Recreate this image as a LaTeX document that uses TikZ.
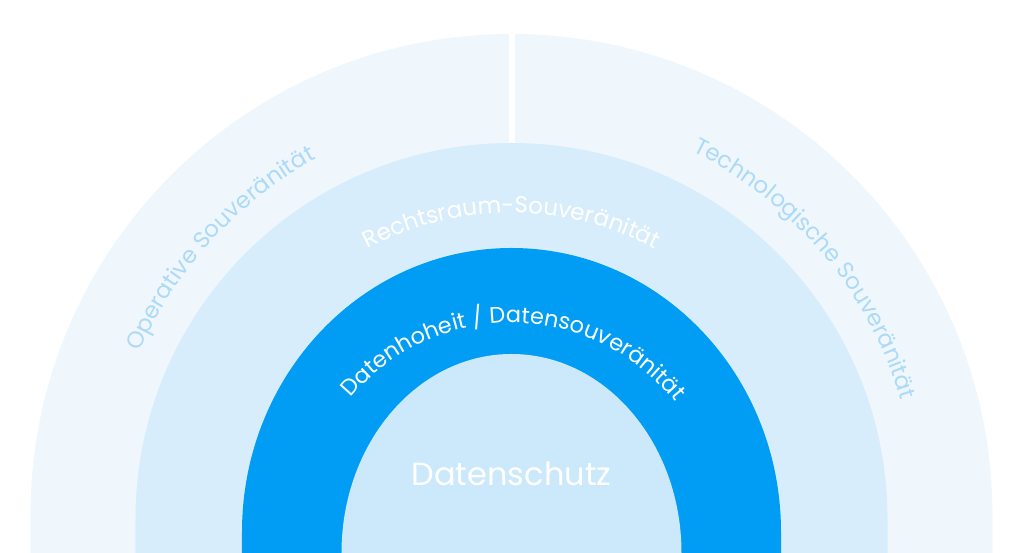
\documentclass[tikz,border=0pt]{standalone}
\usepackage{fontspec}
\setmainfont{Poppins}
\usetikzlibrary{decorations.text}
\definecolor{outerbg}{HTML}{EFF7FD}
\definecolor{midbg}{HTML}{D8EDFC}
\definecolor{darkbg}{HTML}{019DF4}
\definecolor{innerbg}{HTML}{CCE9FB}
\definecolor{outertext}{HTML}{ADDAF7}
\begin{document}
\begin{tikzpicture}[x=1pt,y=1pt,
    curved/.style={decorate,decoration={text along path,text align=center,text={#1}}}]
    \useasboundingbox (-511.5,0) rectangle (512.5,553);

    \fill[outerbg] (-481,-5) -- (-481,38) arc[start angle=180,end angle=0,radius=481pt] -- (481,-5) -- cycle;
    \fill[white] (-3,380) rectangle (3,530);
    \fill[midbg] (-376,-5) -- (-376,34) arc[start angle=180,end angle=0,radius=376pt] -- (376,-5) -- cycle;
    \fill[darkbg] (-269.5,-5) -- (-269.5,21) arc[start angle=180,end angle=0,x radius=269.5pt,y radius=284pt] -- (269.5,-5) -- cycle;
    \fill[innerbg] (-170,-5) -- (-170,0) arc[start angle=180,end angle=0,x radius=170pt,y radius=199pt] -- (170,-5) -- cycle;

    \path[curved={|\fontsize{23}{27}\selectfont\color{outertext}|Operative Souveränität}]
        (0,38) ++(175:406pt) arc[start angle=175,end angle=100,radius=406pt];
    \path[curved={|\fontsize{23}{27}\selectfont\color{outertext}|Technologische Souveränität}]
        (0,38) ++(80:406pt) arc[start angle=80,end angle=0,radius=406pt];
    \path[curved={|\fontsize{23}{27}\selectfont\color{white}|Rechtsraum-Souveränität}]
        (0,34) ++(150:306pt) arc[start angle=150,end angle=30,radius=306pt];
    \path[curved={|\fontsize{22.5}{27}\selectfont\color{white}|Datenhoheit / Datensouveränität}]
        (0,21) ++(160:209pt) arc[start angle=160,end angle=18.5,radius=209pt];

    \node[anchor=base,text=white,font=\fontsize{32}{38}\selectfont] (schutz) at (0,67) {Datenschutz};
\end{tikzpicture}
\end{document}
